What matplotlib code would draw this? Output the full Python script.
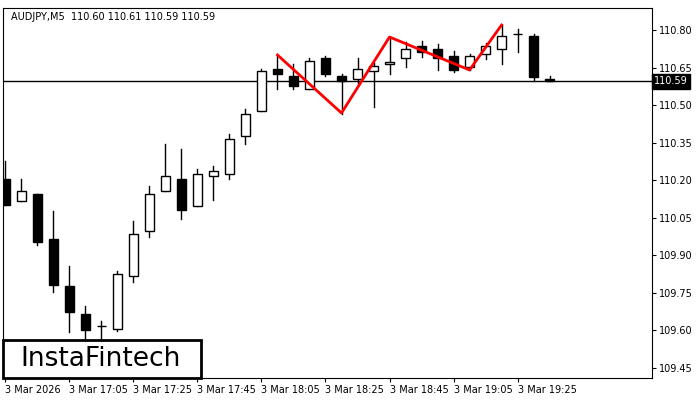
import matplotlib.pyplot as plt
from matplotlib.patches import Rectangle

opens  = [110.204, 110.116, 110.144, 109.964, 109.776, 109.664, 109.616, 109.604, 109.816, 109.996,
          110.156, 110.204, 110.096, 110.216, 110.224, 110.376, 110.476, 110.644, 110.616, 110.564,
          110.688, 110.616, 110.604, 110.636, 110.664, 110.688, 110.736, 110.724, 110.696, 110.652,
          110.704, 110.724, 110.784, 110.776, 110.604]
highs  = [110.276, 110.204, 110.144, 110.076, 109.856, 109.696, 109.636, 109.836, 110.036, 110.176,
          110.344, 110.324, 110.244, 110.256, 110.384, 110.484, 110.644, 110.700, 110.664, 110.688,
          110.696, 110.624, 110.688, 110.668, 110.772, 110.752, 110.756, 110.744, 110.716, 110.704,
          110.748, 110.820, 110.804, 110.784, 110.616]
lows   = [110.100, 110.116, 109.940, 109.752, 109.592, 109.540, 109.560, 109.596, 109.792, 109.972,
          110.156, 110.044, 110.096, 110.120, 110.204, 110.344, 110.476, 110.564, 110.564, 110.564,
          110.616, 110.464, 110.584, 110.492, 110.624, 110.652, 110.692, 110.640, 110.632, 110.640,
          110.684, 110.664, 110.712, 110.596, 110.596]
closes = [110.100, 110.156, 109.952, 109.780, 109.672, 109.600, 109.616, 109.824, 109.984, 110.144,
          110.216, 110.080, 110.224, 110.236, 110.364, 110.464, 110.636, 110.624, 110.576, 110.676,
          110.624, 110.596, 110.644, 110.656, 110.672, 110.724, 110.712, 110.688, 110.640, 110.696,
          110.736, 110.776, 110.784, 110.612, 110.596]

pattern_idx = [17, 21, 24, 29, 31]
pattern_px = [110.700, 110.468, 110.772, 110.640, 110.820]

last_price = 110.595
yticks = [110.80, 110.65, 110.50, 110.35, 110.20, 110.05, 109.90, 109.75, 109.60, 109.45]
xtick_idx = [0, 4, 8, 12, 16, 20, 24, 28, 32]
xtick_lbl = ['3 Mar 2026', '3 Mar 17:05', '3 Mar 17:25', '3 Mar 17:45', '3 Mar 18:05',
             '3 Mar 18:25', '3 Mar 18:45', '3 Mar 19:05', '3 Mar 19:25']

fig = plt.figure(figsize=(7, 4), dpi=100)
ax = fig.add_axes([3/700, 22/400, 649/700, 370/400])

w = 0.6
for i in range(len(opens)):
    o, h, l, c = opens[i], highs[i], lows[i], closes[i]
    ax.plot([i, i], [l, h], color='black', lw=1, zorder=2)
    bot = min(o, c)
    ht = max(abs(c - o), 0.002)
    fc = 'white' if c >= o else 'black'
    ax.add_patch(Rectangle((i - w/2, bot), w, ht, facecolor=fc, edgecolor='black', lw=1, zorder=3))

ax.axhline(last_price, color='black', lw=1, zorder=1)
ax.plot(pattern_idx, pattern_px, color='#ff0000', lw=2, zorder=4)

ax.set_xlim(-0.15, 40.4)
ax.set_ylim(109.408, 110.888)
ax.yaxis.tick_right()
ax.set_yticks(yticks)
ax.set_yticklabels(['%.2f' % v for v in yticks], fontsize=7)
ax.set_xticks(xtick_idx)
ax.set_xticklabels(xtick_lbl, fontsize=7, ha='left')
ax.tick_params(length=3, pad=2)
ax.text(0.5/700*0, 0, '')
ax.text(0.012, 0.99, 'AUDJPY,M5  110.60 110.61 110.59 110.59', transform=ax.transAxes,
        fontsize=7, va='top', ha='left')
ax.text(1.003, last_price, '110.59', transform=ax.get_yaxis_transform(), fontsize=7,
        color='white', va='center', ha='left',
        bbox=dict(boxstyle='square,pad=0.25', fc='black', ec='black'))

fig.patches.append(Rectangle((3/700, 22/400), 198/700, 38/400, transform=fig.transFigure,
                             facecolor='white', edgecolor='black', lw=2, zorder=5))
fig.text(101/700, 41/400, 'InstaFintech', fontsize=19, ha='center', va='center', zorder=6)

fig.savefig('out.png', dpi=100)
